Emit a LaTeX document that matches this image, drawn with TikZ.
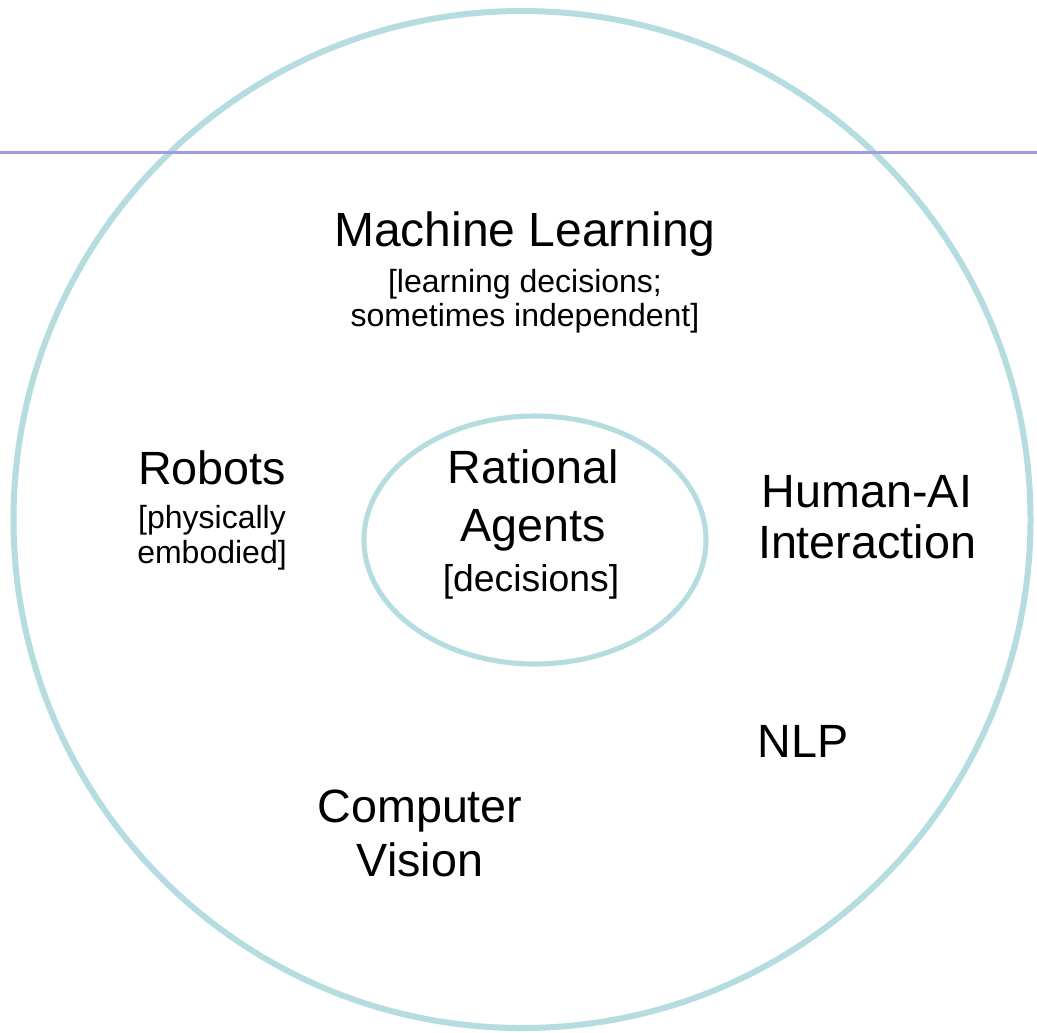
\documentclass[tikz,border=0pt]{standalone}
\usepackage{fontspec}
\setmainfont{Liberation Sans}
\definecolor{ringteal}{HTML}{B5DCDF}
\definecolor{linepurple}{HTML}{A29DE3}
\tikzset{
  big/.style={font=\fontsize{35}{40}\selectfont, anchor=base, inner sep=0pt},
  small/.style={font=\fontsize{24}{28}\selectfont, anchor=base, inner sep=0pt},
  mid/.style={font=\fontsize{28}{32}\selectfont, anchor=base, inner sep=0pt},
  ring/.style={draw=ringteal, line width=4.5pt},
  innerring/.style={draw=ringteal, line width=3.8pt},
}
\begin{document}
\begin{tikzpicture}[x=0.75pt, y=-0.75pt]
\useasboundingbox (0,0) rectangle (1037,1032);
\fill[white] (0,0) rectangle (1037,1032);
% outer circle
\draw[ring] (522,519.5) circle [radius=508.5];
% horizontal line
\coordinate (hl) at (0,152.5);
\coordinate (hr) at (1037,152.5);
\draw[linepurple, line width=2pt] (hl) -- (hr);
% inner ellipse
\draw[innerring] (535,540) ellipse [x radius=171, y radius=124];
% texts
\node[big, font=\fontsize{36}{40}\selectfont] (ml) at (525,246) {Machine Learning};
\node[small] (ml1) at (525,292) {[learning decisions;};
\node[small] (ml2) at (525,326) {sometimes independent]};
\node[big] (rob) at (212,484) {Robots};
\node[small] (rob1) at (212,528) {[physically};
\node[small] (rob2) at (212,563) {embodied]};
\node[big] (ra1) at (533,483) {Rational};
\node[big] (ra2) at (533,541) {Agents};
\node[mid] (ra3) at (531,591) {[decisions]};
\node[big] (hai1) at (867,507) {Human-AI};
\node[big] (hai2) at (867,558) {Interaction};
\node[big] (nlp) at (803,757) {NLP};
\node[big] (cv1) at (420,822) {Computer};
\node[big] (cv2) at (420,876) {Vision};
\end{tikzpicture}
\end{document}
